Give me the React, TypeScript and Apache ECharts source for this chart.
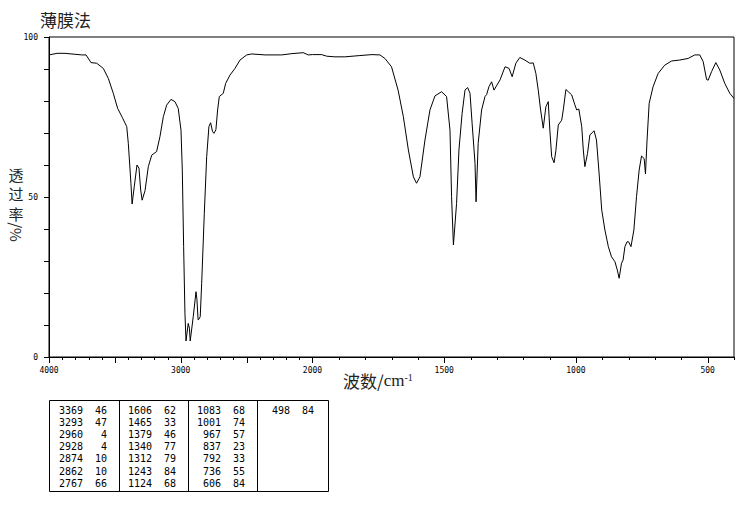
import React, { useEffect, useRef } from "react";
import * as echarts from "echarts";

// Spectrum trace (wavenumber cm-1, transmittance %)
const wavenumbers = [
  4000, 3939, 3879, 3752, 3719, 3681, 3638, 3588, 3550, 3512, 3479, 3444, 3410, 3398, 3378, 3369,
  3353, 3332, 3317, 3304, 3293, 3271, 3246, 3220, 3183, 3158, 3132, 3107, 3074, 3044, 3019, 2998,
  2988, 2978, 2968, 2960, 2943, 2934, 2928, 2905, 2884, 2877, 2868, 2862, 2852, 2841, 2821, 2803,
  2786, 2773, 2759, 2748, 2733, 2720, 2707, 2677, 2659, 2626, 2588, 2550, 2499, 2461, 2361, 2234,
  2156, 2070, 2032, 2000, 1965, 1946, 1915, 1877, 1820, 1774, 1744, 1725, 1700, 1675, 1655, 1636,
  1617, 1605, 1592, 1573, 1554, 1535, 1510, 1491, 1478, 1472, 1465, 1453, 1444, 1432, 1421, 1411,
  1402, 1394, 1383, 1379, 1371, 1358, 1345, 1339, 1330, 1320, 1311, 1288, 1269, 1254, 1242, 1228,
  1213, 1194, 1175, 1162, 1152, 1143, 1134, 1124, 1114, 1105, 1099, 1092, 1083, 1076, 1067, 1054,
  1048, 1038, 1029, 1016, 1004, 997, 989, 978, 972, 966, 956, 947, 931, 922, 913, 902, 890, 877,
  865, 852, 843, 836, 827, 821, 814, 806, 800, 791, 780, 770, 760, 751, 741, 736, 730, 722, 707,
  688, 663, 637, 606, 574, 549, 530, 517, 504, 498, 485, 469, 454, 435, 416, 400,
];
const transmittance = [
  94.4, 94.9, 94.9, 94.4, 94.4, 92.0, 91.8, 90.2, 87.1, 82.4, 77.7, 74.9, 72.0, 66.8, 54.3, 47.8,
  53.2, 60.0, 59.0, 52.2, 49.0, 52.0, 59.5, 63.1, 64.2, 68.8, 75.1, 78.7, 80.5, 79.8, 77.7, 70.9,
  58.4, 34.5, 13.7, 5.0, 10.5, 9.0, 5.0, 12.6, 20.4, 18.0, 11.6, 11.8, 12.6, 23.0, 44.9, 62.6,
  72.0, 73.2, 70.5, 69.9, 71.0, 77.2, 81.4, 82.4, 85.5, 88.1, 90.2, 92.8, 94.4, 94.7, 94.4, 94.4,
  94.8, 95.1, 94.4, 94.5, 94.5, 94.0, 93.8, 93.8, 94.2, 94.5, 94.4, 93.3, 90.7, 83.4, 75.1, 64.7,
  56.3, 54.3, 56.3, 67.8, 77.2, 81.6, 82.9, 81.4, 70.9, 50.1, 35.0, 48.0, 64.7, 76.1, 83.4, 84.2,
  82.4, 73.0, 60.5, 48.5, 66.8, 77.2, 81.4, 82.0, 84.5, 86.0, 83.4, 86.6, 90.7, 90.2, 87.6, 91.8,
  93.6, 92.8, 91.8, 91.9, 88.6, 83.4, 77.2, 71.5, 78.2, 79.8, 70.9, 62.6, 60.7, 64.5, 72.5, 74.0,
  77.2, 83.6, 82.9, 81.9, 78.8, 77.2, 77.5, 72.0, 64.7, 59.5, 63.6, 69.4, 70.7, 67.8, 58.4, 45.9, 39.7, 34.5,
  31.3, 29.8, 27.2, 24.6, 29.3, 30.3, 34.5, 36.0, 36.0, 34.5, 39.7, 50.1, 58.4, 62.8, 62.0, 57.2, 67.8, 79.3, 84.5,
  88.6, 91.2, 92.5, 92.8, 93.3, 94.4, 94.4, 92.3, 86.7, 86.5, 89.2, 92.0, 89.7, 85.5, 82.4, 80.8,
];

// Peak table
const peakWavenumbers = [
  3369, 3293, 2960, 2928, 2874, 2862, 2767,
  1606, 1465, 1379, 1340, 1312, 1243, 1124,
  1083, 1001, 967, 837, 792, 736, 606,
  498,
];
const peakTransmittance = [
  46, 47, 4, 4, 10, 10, 66,
  62, 33, 46, 77, 79, 84, 68,
  68, 74, 57, 23, 33, 55, 84,
  84,
];

const xTickLabels = [4000, 3000, 2000, 1500, 1000, 500];
const yTickLabels = [0, 50, 100];

const titleText = "薄膜法";
const yNameChars = ["透", "过", "率"];
const yNameUnit = "/%";

// piecewise x scale: 4000-2000 compressed by 2, 2000-400 full
const toPos = (wn: number) => (wn >= 2000 ? (4000 - wn) / 2 : 1000 + (2000 - wn));
const fromPos = (p: number) => (p <= 1000 ? 4000 - 2 * p : 2000 - (p - 1000));

export default function App() {
  const ref = useRef<HTMLDivElement>(null);

  useEffect(() => {
    if (!ref.current) return;
    const chart = echarts.init(ref.current, null, { renderer: "svg" });

    const tickData: number[][] = [];
    for (let w = 4000; w >= 400; w -= 100) {
      tickData.push([toPos(w), w % 500 === 0 ? 1 : 0]);
    }

    const cjk = "'Noto Sans CJK SC', sans-serif";
    const mono = "'DejaVu Sans Mono', monospace";

    const tableLeft = 49.5;
    const tableTop = 400.5;
    const colW = 69;
    const rowH = 12.2;
    const tableGraphics: any[] = [
      {
        type: "rect",
        shape: { x: tableLeft, y: tableTop, width: 279, height: 91 },
        style: { fill: "none", stroke: "#000", lineWidth: 1 },
      },
    ];
    for (let c = 1; c < 4; c++) {
      const x = Math.round(tableLeft + c * colW) + 0.5;
      tableGraphics.push({
        type: "line",
        shape: { x1: x, y1: tableTop, x2: x, y2: tableTop + 91 },
        style: { stroke: "#000", lineWidth: 1 },
      });
    }
    peakWavenumbers.forEach((w, i) => {
      const c = Math.floor(i / 7);
      const r = i % 7;
      const left = tableLeft + c * colW;
      const y = 410 + r * rowH;
      tableGraphics.push({
        type: "text",
        x: left + 33.5,
        y,
        style: {
          text: String(w),
          fontSize: 10,
          fontFamily: mono,
          fill: "#000",
          align: "right",
          verticalAlign: "middle",
        },
      });
      tableGraphics.push({
        type: "text",
        x: left + 57.5,
        y,
        style: {
          text: String(peakTransmittance[i]),
          fontSize: 10,
          fontFamily: mono,
          fill: "#000",
          align: "right",
          verticalAlign: "middle",
        },
      });
    });

    const yNameGraphics: any[] = yNameChars.map((ch, i) => ({
      type: "text",
      x: 16,
      y: 174 + i * 19.5,
      style: {
        text: ch,
        fontSize: 15,
        fontFamily: cjk,
        fill: "#222",
        align: "center",
        verticalAlign: "middle",
      },
    }));
    yNameGraphics.push({
      type: "text",
      x: 16,
      y: 232,
      rotation: -Math.PI / 2,
      style: {
        text: yNameUnit,
        fontSize: 15,
        fontFamily: cjk,
        fill: "#222",
        align: "center",
        verticalAlign: "middle",
      },
    });

    chart.setOption({
      animation: false,
      backgroundColor: "#fff",
      grid: {
        left: 49,
        top: 37,
        width: 685,
        height: 320,
        show: true,
        borderColor: "#000",
        borderWidth: 1,
        backgroundColor: "transparent",
      },
      xAxis: {
        type: "value",
        min: 0,
        max: 2600,
        interval: 500,
        axisLine: { show: true, lineStyle: { color: "#000", width: 1 } },
        axisTick: { show: false },
        splitLine: { show: false },
        axisLabel: {
          show: true,
          showMaxLabel: false,
          margin: 9,
          fontSize: 8,
          fontFamily: mono,
          color: "#000",
          formatter: (v: number) => {
            const w = fromPos(v);
            return xTickLabels.includes(w) ? String(w) : "";
          },
        },
      },
      yAxis: {
        type: "value",
        min: 0,
        max: 100,
        interval: 10,
        axisLine: { show: true, lineStyle: { color: "#000", width: 1 } },
        axisTick: { show: true, length: 5, lineStyle: { color: "#000" } },
        splitLine: { show: false },
        axisLabel: {
          margin: 11,
          fontSize: 8,
          fontFamily: mono,
          color: "#000",
          formatter: (v: number) => (yTickLabels.includes(v) ? String(v) : ""),
        },
      },
      series: [
        {
          type: "line",
          data: wavenumbers.map((w, i) => [toPos(w), transmittance[i]]),
          showSymbol: false,
          symbol: "none",
          lineStyle: { color: "#000", width: 1 },
          z: 5,
          silent: true,
        },
        {
          type: "custom",
          data: tickData,
          clip: false,
          silent: true,
          z: 3,
          renderItem: (params: any, api: any) => {
            const pt = api.coord([api.value(0), 0]);
            const x = Math.round(pt[0]) + 0.5;
            return {
              type: "line",
              shape: { x1: x, y1: pt[1], x2: x, y2: pt[1] + (api.value(1) ? 6 : 3) },
              style: { stroke: "#000", lineWidth: 1 },
            };
          },
        },
      ],
      graphic: [
        {
          type: "text",
          x: 40,
          y: 11,
          style: { text: titleText, fontSize: 17, fontFamily: cjk, fill: "#222" },
        },
        ...yNameGraphics,
        {
          type: "text",
          x: 343,
          y: 372,
          style: {
            text: "{a|波数/}{b|cm}{c|-1}",
            fill: "#222",
            rich: {
              a: { fontSize: 17, fontFamily: cjk, fill: "#222" },
              b: { fontSize: 17, fontFamily: "'Liberation Serif', serif", fill: "#222" },
              c: { fontSize: 10, fontFamily: "'Liberation Serif', serif", fill: "#222", verticalAlign: "top" },
            },
          },
        },
        ...tableGraphics,
      ],
    });

    return () => chart.dispose();
  }, []);

  return (
    <div
      ref={ref}
      style={{ position: "fixed", left: 0, top: 0, width: 738, height: 510 }}
    />
  );
}
